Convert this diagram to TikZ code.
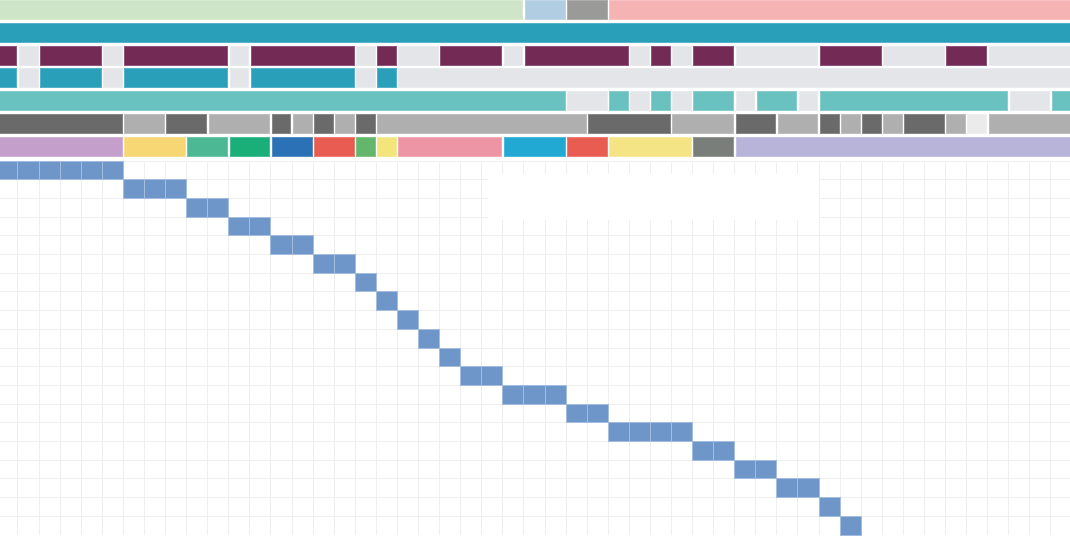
\documentclass[tikz,border=0pt]{standalone}
\usepackage{xcolor}
\usepackage{tikz}
\definecolor{tlMint}{HTML}{CFE5C7}
\definecolor{tlSky}{HTML}{B1CDE2}
\definecolor{tlStone}{HTML}{9A9B99}
\definecolor{tlRose}{HTML}{F5B3B4}
\definecolor{tlTeal}{HTML}{2A9FBA}
\definecolor{tlPlum}{HTML}{732B56}
\definecolor{tlIdle}{HTML}{E4E5E8}
\definecolor{tlAqua}{HTML}{69C2BF}
\definecolor{tlDark}{HTML}{6A6A6A}
\definecolor{tlMid}{HTML}{AFAFAF}
\definecolor{tlPale}{HTML}{EBEBEB}
\definecolor{tlLilac}{HTML}{C49FCB}
\definecolor{tlSun}{HTML}{F7D774}
\definecolor{tlJade}{HTML}{4DB894}
\definecolor{tlEmerald}{HTML}{1AAE78}
\definecolor{tlCobalt}{HTML}{2B71B5}
\definecolor{tlCoral}{HTML}{E95C52}
\definecolor{tlLeaf}{HTML}{64B66C}
\definecolor{tlLemon}{HTML}{F3E57B}
\definecolor{tlBlush}{HTML}{EE95A5}
\definecolor{tlCyan}{HTML}{21A8D3}
\definecolor{tlSand}{HTML}{F5E485}
\definecolor{tlSlate}{HTML}{7A7E7A}
\definecolor{tlLavender}{HTML}{B7B3D9}
\definecolor{tlTask}{HTML}{6F96C9}
\definecolor{tlTaskEdge}{HTML}{A4BCDD}
\definecolor{tlGrid}{HTML}{EFEFEF}
\tikzset{
  tl chart/.style={x=0.25mm, y=-0.25mm, line join=miter},
  tl bar/.style={fill=#1, draw=#1!80!white, line width=0.4pt},
  tl grid/.style={draw=tlGrid, line width=0.6pt},
  tl task/.style={fill=tlTask, draw=tlTaskEdge, line width=0.6pt}
}
\newcommand{\tlcw}{21.08}
\newcommand{\tlco}{-3.16}

\begin{document}
\begin{tikzpicture}[tl chart]
\useasboundingbox (0,0) rectangle (1070,535);
\clip (0,0) rectangle (1070,535);
% lanes
\foreach \r/\a/\b/\c in {0/0/24/tlMint, 0/25/26/tlSky, 0/27/28/tlStone, 0/29/50/tlRose,
  1/0/50/tlTeal,
  2/0/0/tlPlum, 2/1/1/tlIdle, 2/2/4/tlPlum, 2/5/5/tlIdle, 2/6/10/tlPlum, 2/11/11/tlIdle,
  2/12/16/tlPlum, 2/17/17/tlIdle, 2/18/18/tlPlum, 2/19/20/tlIdle, 2/21/23/tlPlum,
  2/24/24/tlIdle, 2/25/29/tlPlum, 2/30/30/tlIdle, 2/31/31/tlPlum, 2/32/32/tlIdle,
  2/33/34/tlPlum, 2/35/38/tlIdle, 2/39/41/tlPlum, 2/42/44/tlIdle, 2/45/46/tlPlum,
  2/47/50/tlIdle,
  3/0/0/tlTeal, 3/1/1/tlIdle, 3/2/4/tlTeal, 3/5/5/tlIdle, 3/6/10/tlTeal, 3/11/11/tlIdle,
  3/12/16/tlTeal, 3/17/17/tlIdle, 3/18/18/tlTeal, 3/19/50/tlIdle,
  4/0/26/tlAqua, 4/27/28/tlIdle, 4/29/29/tlAqua, 4/30/30/tlIdle, 4/31/31/tlAqua,
  4/32/32/tlIdle, 4/33/34/tlAqua, 4/35/35/tlIdle, 4/36/37/tlAqua, 4/38/38/tlIdle,
  4/39/47/tlAqua, 4/48/49/tlIdle, 4/50/50/tlAqua,
  5/0/5/tlDark, 5/6/7/tlMid, 5/8/9/tlDark, 5/10/12/tlMid, 5/13/13/tlDark, 5/14/14/tlMid,
  5/15/15/tlDark, 5/16/16/tlMid, 5/17/17/tlDark, 5/18/27/tlMid, 5/28/31/tlDark,
  5/32/34/tlMid, 5/35/36/tlDark, 5/37/38/tlMid, 5/39/39/tlDark, 5/40/40/tlMid,
  5/41/41/tlDark, 5/42/42/tlMid, 5/43/44/tlDark, 5/45/45/tlMid, 5/46/46/tlPale,
  5/47/50/tlMid,
  6/0/5/tlLilac, 6/6/8/tlSun, 6/9/10/tlJade, 6/11/12/tlEmerald, 6/13/14/tlCobalt,
  6/15/16/tlCoral, 6/17/17/tlLeaf, 6/18/18/tlLemon, 6/19/23/tlBlush, 6/24/26/tlCyan,
  6/27/28/tlCoral, 6/29/32/tlSand, 6/33/34/tlSlate, 6/35/50/tlLavender}
  \draw[tl bar=\c] ({\tlco+\a*\tlcw+1.2},{0.2+22.8*\r})
    rectangle ({\tlco+(\b+1)*\tlcw-1.2},{19.2+22.8*\r});
% grid
\foreach \k in {1,...,50}
  \draw[tl grid] ({\tlco+\k*\tlcw},161) -- ({\tlco+\k*\tlcw},535);
\foreach \i in {0,...,19}
  \draw[tl grid] (0,{161+18.7*\i}) -- (1070,{161+18.7*\i});
\fill[white] (487.7,174) rectangle (819.3,220);
% tasks
\foreach \r/\a/\b in {0/0/5, 1/6/8, 2/9/10, 3/11/12, 4/13/14, 5/15/16, 6/17/17,
  7/18/18, 8/19/19, 9/20/20, 10/21/21, 11/22/23, 12/24/26, 13/27/28, 14/29/32,
  15/33/34, 16/35/36, 17/37/38, 18/39/39, 19/40/40}
  \foreach \k in {\a,...,\b}
    \draw[tl task] ({\tlco+\k*\tlcw},{161+18.7*\r})
      rectangle ({\tlco+(\k+1)*\tlcw},{161+18.7*(\r+1)});
\end{tikzpicture}
\end{document}
